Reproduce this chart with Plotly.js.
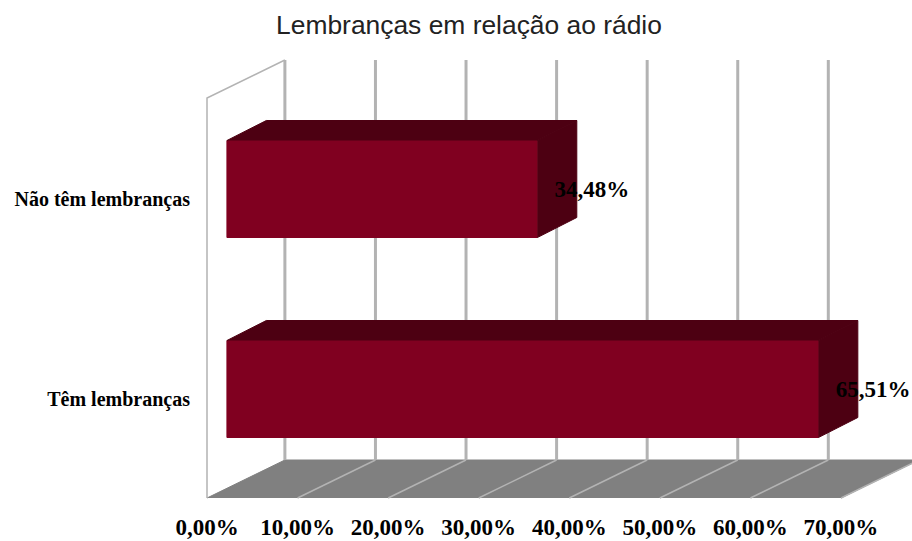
<!DOCTYPE html>
<html>
<head>
<meta charset="utf-8">
<script src="https://cdn.plot.ly/plotly-3.0.1.min.js"></script>
<style>html,body{margin:0;padding:0;background:#fff}</style>
</head>
<body>
<div id="chart" style="width:912px;height:541px"></div>
<script>
var categories = ['Têm lembranças', 'Não têm lembranças'];
var values = [65.51, 34.48];
var valueLabels = ['65,51%', '34,48%'];
var xTickValues = [0, 10, 20, 30, 40, 50, 60, 70];
var xTickLabels = ['0,00%', '10,00%', '20,00%', '30,00%', '40,00%', '50,00%', '60,00%', '70,00%'];

var wallDX = 8.6, wallDY = 0.19;   // depth of the chart box, axis units
var barDX = 4.35, barDY = 0.1;     // depth of a bar, axis units
var barStart = 2.2, barShift = 2.0; // front-face inset from the wall
var barH = 0.485, barLift = 0.045;
var yMin = -0.5, yMax = 1.5;
var xRange = [-0.773, 77.84], yRange = [-0.525, 1.74];
var centres = categories.map(function (c, i) { return i; });
var tickPos = centres.map(function (c) { return c - 0.005; });

var GRID = '#b3b3b3', FRONT = '#800020', DARK = '#4d0012', FLOOR = '#808080';
var traces = [];

function poly(xs, ys, color, xa, ya) {
  traces.push({type: 'scatter', mode: 'lines', x: xs, y: ys, fill: 'toself', fillcolor: color,
    line: {color: color, width: 1}, hoverinfo: 'skip', showlegend: false,
    xaxis: xa || 'x', yaxis: ya || 'y'});
}
function line(xs, ys, color, w) {
  traces.push({type: 'scatter', mode: 'lines', x: xs, y: ys, line: {color: color, width: w},
    hoverinfo: 'skip', showlegend: false, xaxis: 'x', yaxis: 'y'});
}

// floor
poly([0, wallDX, 70 + wallDX, 70], [yMin, yMin + wallDY, yMin + wallDY, yMin], FLOOR);
// back-wall grid and floor grid
xTickValues.forEach(function (t, i) {
  line([t + wallDX, t + wallDX], [yMin + wallDY, yMax + wallDY], GRID, 3);
  if (i > 0) line([t, t + wallDX], [yMin, yMin + wallDY], GRID, 1.5);
});
// left wall outline
line([0, 0, wallDX], [yMin, yMax, yMax + wallDY], GRID, 1.5);

// bars on an overlay subplot so that they sit above the box
traces.push({type: 'bar', orientation: 'h', xaxis: 'x2', yaxis: 'y2',
  y: centres.map(function (c) { return c + barLift; }),
  x: values.map(function (v) { return v + barShift - barStart; }),
  base: barStart, width: barH,
  marker: {color: FRONT, line: {color: FRONT, width: 1}},
  hoverinfo: 'skip', showlegend: false});

values.forEach(function (v, i) {
  var yb = centres[i] + barLift - barH / 2, yt = yb + barH;
  var xr = v + barShift;
  poly([barStart, barStart + barDX, xr + barDX, xr], [yt, yt + barDY, yt + barDY, yt], DARK, 'x2', 'y2');
  poly([xr, xr + barDX, xr + barDX, xr], [yb, yb + barDY, yt + barDY, yt], DARK, 'x2', 'y2');
});

// value labels
traces.push({type: 'scatter', mode: 'text', xaxis: 'x2', yaxis: 'y2', cliponaxis: false,
  x: values.map(function (v) { return v + barShift + 1.9; }),
  y: centres.map(function (c) { return c + 0.035; }),
  text: valueLabels, textposition: 'middle right',
  textfont: {family: 'Liberation Serif', size: 23, weight: 700, color: '#000'},
  hoverinfo: 'skip', showlegend: false});

var layout = {
  width: 912, height: 541, showlegend: false,
  paper_bgcolor: '#fff', plot_bgcolor: 'rgba(0,0,0,0)',
  margin: {l: 200, r: 0, t: 50, b: 38, pad: 0},
  title: {text: 'Lembranças em relação ao rádio', x: 469 / 912, xanchor: 'center',
    y: 1 - 25 / 541, yanchor: 'middle', xref: 'container', yref: 'container',
    font: {family: 'Liberation Sans', size: 26.4, color: '#222'}},
  xaxis: {range: xRange, tickmode: 'array', tickvals: xTickValues, ticktext: xTickLabels,
    showgrid: false, zeroline: false, showline: false, ticks: 'outside', ticklen: 3,
    tickcolor: 'rgba(0,0,0,0)', fixedrange: true,
    tickfont: {family: 'Liberation Serif', size: 23, weight: 700, color: '#000'}},
  yaxis: {range: yRange, tickmode: 'array', tickvals: tickPos, ticktext: categories,
    showgrid: false, zeroline: false, showline: false, ticks: 'outside', ticklen: 5,
    tickcolor: 'rgba(0,0,0,0)', fixedrange: true,
    tickfont: {family: 'Liberation Serif', size: 20, weight: 700, color: '#000'}},
  xaxis2: {range: xRange, overlaying: 'x', visible: false, fixedrange: true},
  yaxis2: {range: yRange, overlaying: 'y', visible: false, fixedrange: true}
};

Plotly.newPlot('chart', traces, layout, {displayModeBar: false, staticPlot: true});
</script>
</body>
</html>
